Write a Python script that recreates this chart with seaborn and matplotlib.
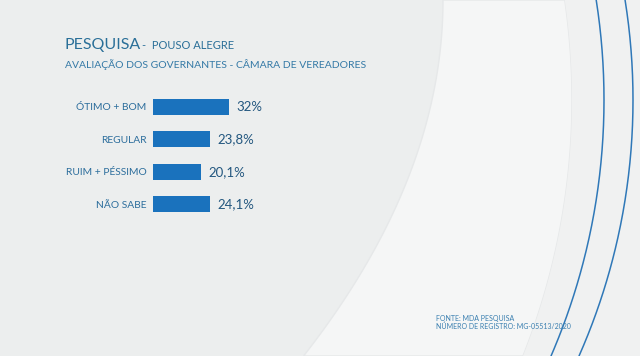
import numpy as np
import pandas as pd
import seaborn as sns
import matplotlib.pyplot as plt
from matplotlib.patches import Polygon

# dados da pesquisa
categorias = ["ÓTIMO + BOM", "REGULAR", "RUIM + PÉSSIMO", "NÃO SABE"]
valores = [32.0, 23.8, 20.1, 24.1]
rotulos = ["32%", "23,8%", "20,1%", "24,1%"]

titulo = "PESQUISA"
cidade = "-  POUSO ALEGRE"
subtitulo = "AVALIAÇÃO DOS GOVERNANTES - CÂMARA DE VEREADORES"
fonte = "FONTE: MDA PESQUISA"
registro = "NÚMERO DE REGISTRO: MG-05513/2020"

sns.set_theme(style="white")
plt.rcParams['font.family'] = ['Lato', 'DejaVu Sans']

W, H = 640, 356
fig = plt.figure(figsize=(6.4, 3.56), dpi=100, facecolor='#eceeee')

# fundo decorativo (coordenadas em pixels, y para baixo)
bg = fig.add_axes([0, 0, 1, 1])
bg.set_xlim(0, W)
bg.set_ylim(H, 0)
bg.axis('off')
ys = np.linspace(0, H, 200)

def arco(xmax, ymax, r):
    cx = xmax - r
    return cx + np.sqrt(r**2 - (ys - ymax)**2)

direita = arco(572, 100, 693)
esquerda = 443 - 0.0011 * ys**2
pts = np.vstack([np.column_stack([esquerda, ys]), np.column_stack([direita[::-1], ys[::-1]])])
bg.add_patch(Polygon(pts, closed=True, facecolor='#f5f6f6', edgecolor='#e6e8e9', lw=1))
bg.add_patch(Polygon(np.vstack([np.column_stack([direita, ys]), [[W, H], [W, 0]]]),
                     closed=True, facecolor='#f0f1f1', edgecolor='none'))
bg.plot(arco(604, 100, 645), ys, color='#2f78b8', lw=1.1)
bg.plot(arco(633, 100, 634), ys, color='#2f78b8', lw=1.1)

# barras
ax = fig.add_axes([153 / W, 1 - 220.2 / H, 237.5 / W, 129.4 / H])
df = pd.DataFrame({"categoria": categorias, "valor": valores})
sns.barplot(data=df, x="valor", y="categoria", orient="h", color="#1a72bd",
            saturation=1, width=0.5, linewidth=0, ax=ax)
ax.set_xlim(0, 100)
ax.set_ylim(3.5, -0.5)
ax.patch.set_alpha(0)
for s in ax.spines.values():
    s.set_visible(False)
ax.set_xlabel("")
ax.set_ylabel("")
ax.set_xticks([])
ax.tick_params(axis='y', length=0, pad=4.5, labelsize=7.4, labelcolor='#2c6d9c')
ax.bar_label(ax.containers[0], labels=rotulos, padding=5.5, fontsize=9.5, color='#23577f')

# textos
fig.text(64 / W, 1 - 49 / H, titulo, fontsize=11.5, color='#2a6f98', va='baseline')
fig.text(142 / W, 1 - 49 / H, cidade, fontsize=8.0, color='#2a6f98', va='baseline')
fig.text(65 / W, 1 - 68 / H, subtitulo, fontsize=7.5, color='#3479a6', va='baseline')
fig.text(436 / W, 1 - 321 / H, fonte, fontsize=5.0, color='#3a7fb0', va='baseline')
fig.text(436 / W, 1 - 329 / H, registro, fontsize=5.0, color='#3a7fb0', va='baseline')

fig.savefig("out.png", dpi=100, facecolor=fig.get_facecolor())
